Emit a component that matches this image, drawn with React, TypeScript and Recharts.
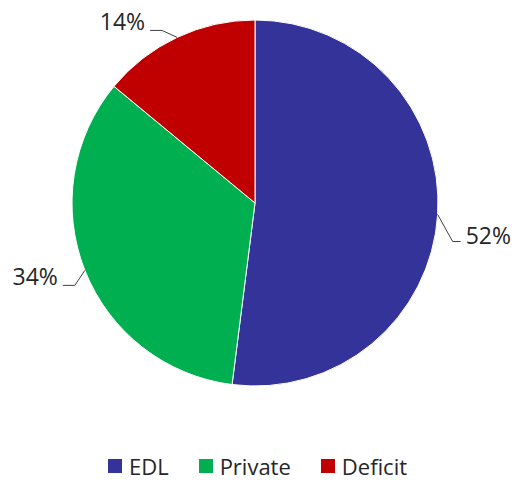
import { PieChart, Pie, Cell, Legend } from "recharts";

const categories = ["EDL", "Private", "Deficit"];
const shares = [52, 34, 14];
const colors = ["#333399", "#00B050", "#C00000"];

const data = categories.map((name, i) => ({ name, value: shares[i] }));

const FONT = "'Open Sans', 'Noto Sans', sans-serif";
const RADIAN = Math.PI / 180;

// leader line shape per slice: elbow offset from the rim, horizontal run, text vertical shift
const leader = [
  { dx: 15, dy: 27, run: 8, textDy: -6 },
  { dx: -10, dy: 15, run: -12, textDy: -9 },
  { dx: -15, dy: -7, run: -12, textDy: -9 },
];

function renderLabel(props: any) {
  const { cx, cy, midAngle, outerRadius, index, value } = props;
  const sx = cx + outerRadius * Math.cos(-midAngle * RADIAN);
  const sy = cy + outerRadius * Math.sin(-midAngle * RADIAN);
  const l = leader[index];
  const ex = sx + l.dx;
  const ey = sy + l.dy;
  const tx = ex + l.run;
  const right = l.run > 0;
  return (
    <g key={`lbl-${index}`}>
      <polyline
        points={`${sx},${sy} ${ex},${ey} ${tx},${ey}`}
        fill="none"
        stroke="#404040"
        strokeWidth={1}
      />
      <text
        x={tx + (right ? 5 : -5)}
        y={ey + l.textDy}
        textAnchor={right ? "start" : "end"}
        dominantBaseline="central"
        fill="#262626"
        fontSize={23}
        fontFamily={FONT}
      >
        {`${value}%`}
      </text>
    </g>
  );
}

function LegendContent() {
  return (
    <div style={{ display: "flex", justifyContent: "center", gap: 30, fontFamily: FONT, fontSize: 22, color: "#262626" }}>
      {categories.map((c, i) => (
        <span key={c} style={{ display: "flex", alignItems: "center", gap: 7 }}>
          <span style={{ width: 14, height: 14, background: colors[i], display: "inline-block" }} />
          {c}
        </span>
      ))}
    </div>
  );
}

export default function App() {
  return (
    <div style={{ position: "absolute", left: 0, top: 0, width: 515, height: 482, background: "#fff" }}>
      <PieChart width={515} height={482} margin={{ top: 0, right: 0, bottom: 0, left: 0 }}>
        <Pie
          data={data}
          dataKey="value"
          nameKey="name"
          cx={255}
          cy={203}
          outerRadius={183}
          startAngle={90}
          endAngle={-270}
          stroke="#ffffff"
          strokeWidth={1}
          label={renderLabel}
          labelLine={false}
          isAnimationActive={false}
        >
          {data.map((d, i) => (
            <Cell key={d.name} fill={colors[i]} />
          ))}
        </Pie>
        <Legend
          verticalAlign="bottom"
          content={<LegendContent />}
          wrapperStyle={{ bottom: 1, left: 0, width: 515 }}
        />
      </PieChart>
    </div>
  );
}
